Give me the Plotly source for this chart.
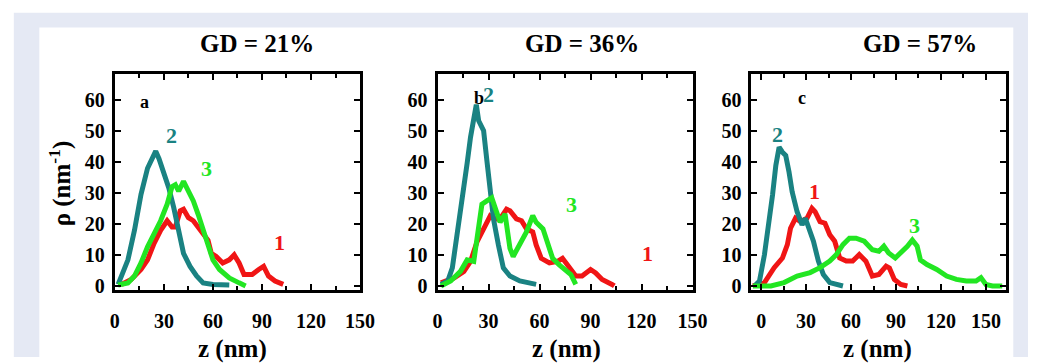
import plotly.graph_objects as go

W, H = 1043, 364

# ---------------- data ----------------
# Panel a : GD = 21%
a1_z = [4, 10, 16, 20, 24, 28, 32, 35, 37, 40, 42, 45, 48, 51, 54, 57, 59, 62, 66, 70, 73, 76, 79, 84, 88, 91, 94, 98, 103]
a1_r = [0.5, 2.1, 5.3, 8.4, 13.7, 17.9, 21, 19, 19, 24.2, 24.7, 22, 21, 19, 16.8, 14.7, 10.5, 9.5, 7.4, 8.4, 10, 7.4, 3.7, 3.7, 5.3, 6.3, 3.2, 1.6, 0.5]
a2_z = [2, 8, 12, 16, 20, 23, 25, 27, 30, 33, 36, 39, 42, 46, 50, 54, 60, 70]
a2_r = [0.5, 8.4, 17.9, 29.5, 37.9, 41, 43.4, 41, 36.8, 31.6, 25.3, 17.9, 10.5, 6.3, 3.2, 1, 0.5, 0.3]
a3_z = [2, 8, 12, 16, 20, 24, 28, 32, 35, 37, 39, 42, 45, 48, 51, 54, 57, 60, 64, 70, 76, 80]
a3_r = [0.3, 1, 3.2, 7.4, 12.6, 16.8, 21, 26.3, 32, 32.6, 30.5, 33.7, 30.5, 27.4, 23, 17.9, 12.6, 8.4, 5.3, 2.6, 1, 0]

# Panel b : GD = 36%
b1_z = [2, 9.7, 15.5, 19.4, 23.2, 27.1, 31, 33.9, 36.8, 40.6, 42.6, 46.4, 49.4, 52.3, 56, 58, 61, 65.8, 70.6, 73.5, 77.4, 81.3, 85, 90, 93, 96.8, 102.6, 104]
b1_r = [1, 2.6, 4.7, 7.9, 14.2, 18.4, 22.6, 21.6, 21.6, 24.7, 24.2, 21.6, 21, 18.4, 17.4, 13.2, 8.9, 7.4, 7.9, 8.9, 6.3, 3.2, 3.2, 5.3, 4.2, 2.1, 0.5, 0]
b2_z = [2, 6, 8.7, 11.6, 13.5, 15.5, 17.4, 19.4, 21.3, 22.8, 24.2, 27.1, 29, 31, 32.9, 35.8, 38.7, 42.6, 48.4, 58]
b2_r = [0.5, 1.6, 5.8, 16.3, 23.7, 30, 39.5, 47.9, 54.2, 58.4, 53.2, 50, 40.5, 30, 21.6, 13.2, 5.8, 3.2, 1.6, 0.5]
b3_z = [2, 7.7, 13.5, 17.4, 21.3, 24.2, 26.1, 29, 31.9, 34.8, 36.8, 39.7, 42.6, 44.5, 48.4, 52.3, 56, 58, 62, 64.8, 67.7, 71.6, 75.5, 78.4, 81.3]
b3_r = [0, 1.6, 4.7, 8.4, 7.9, 19.5, 26.3, 27.4, 28.4, 23.7, 20.5, 23.2, 12.1, 9.5, 13.2, 17.4, 22.6, 20.5, 18.4, 14.2, 8.9, 6.8, 5.3, 3.7, 0.5]

# Panel c : GD = 57%
c1_z = [-5.5, 2.2, 8.7, 14.2, 17.5, 19.6, 22.9, 26.2, 30.6, 33.9, 36, 39.3, 42.6, 45.8, 49.1, 52.4, 56.8, 61.1, 65.5, 69.9, 74.2, 78.6, 83.4, 85.6, 88.9, 93.2, 97.6]
c1_r = [0, 1.1, 5.9, 9, 13.3, 18.6, 21.8, 20.7, 21.8, 25, 23.9, 20.7, 20.2, 16.5, 14.4, 9, 8, 8, 10.1, 8, 3.2, 3.7, 6.4, 5.8, 2.1, 0.5, 0]
c2_z = [-4.4, -1.1, 2.2, 5.4, 7.6, 9.8, 12, 14.2, 16.4, 18.6, 20.7, 24, 27.3, 29.5, 31.6, 34.9, 38.2, 41.5, 45.8, 54.6]
c2_r = [0, 1.6, 10.1, 20.7, 29.3, 38.8, 44.7, 43.1, 42, 36.7, 30.3, 23.9, 19.7, 21.8, 18.6, 14.4, 8, 3.7, 1.1, 0]
c3_z = [-5.5, 6.5, 15.3, 24, 32.7, 39.3, 45.8, 50.2, 54.6, 58.9, 63.3, 68.8, 74.2, 78.6, 81.9, 85.1, 89.5, 93.2, 97.6, 100.9, 104.1, 106.3, 110.7, 117.2, 123.8, 130.3, 136.9, 143.4, 146.7, 150, 154.4, 160.9]
c3_r = [0, 0, 1.1, 3.2, 4.3, 5.9, 8, 10.1, 13.3, 15.4, 15.4, 14.4, 11.7, 11.2, 12.8, 10.6, 9, 10.6, 12.8, 14.8, 12.8, 8.4, 6.9, 5.3, 3.2, 2.1, 1.6, 1.6, 2.7, 0.5, 0, 0]

titles = ["GD = 21%", "GD = 36%", "GD = 57%"]
panel_letters = ["a", "b", "c"]
x_ticks = [0, 30, 60, 90, 120, 150]
y_ticks = [0, 10, 20, 30, 40, 50, 60]

RED, TEAL, GREEN = "#F01515", "#1A8282", "#22E622"

panels = [
    [(a1_z, a1_r, RED), (a2_z, a2_r, TEAL), (a3_z, a3_r, GREEN)],
    [(b1_z, b1_r, RED), (b2_z, b2_r, TEAL), (b3_z, b3_r, GREEN)],
    [(c1_z, c1_r, RED), (c2_z, c2_r, TEAL), (c3_z, c3_r, GREEN)],
]

# ---------------- layout geometry (pixels) ----------------
box_x = [(112, 362), (441, 701), (761, 1021)]
box_y = (75, 296)
x_ranges = [[0, 150], [0, 150], [-6.5, 163.7]]
y_range = [-1.4, 68.4]

def px(x):
    return x / W

def py(y):
    return 1 - y / H

fig = go.Figure()
SERIF = "Liberation Serif"

for i, series in enumerate(panels):
    xa = "x" if i == 0 else f"x{i+1}"
    ya = "y" if i == 0 else f"y{i+1}"
    for z, r, col in series:
        fig.add_trace(go.Scatter(x=z, y=r, mode="lines", xaxis=xa, yaxis=ya,
                                 line=dict(color=col, width=5), showlegend=False,
                                 hoverinfo="skip"))
    axis_common = dict(showline=True, linewidth=3, linecolor="black", mirror="ticks",
                       ticks="inside", tickwidth=2, ticklen=6, tickcolor="black",
                       showgrid=False, zeroline=False,
                       tickfont=dict(family=SERIF, size=20, color="black", weight="bold"))
    xkey = "xaxis" if i == 0 else f"xaxis{i+1}"
    ykey = "yaxis" if i == 0 else f"yaxis{i+1}"
    fig.update_layout({
        xkey: dict(domain=[px(box_x[i][0]), px(box_x[i][1])], range=x_ranges[i],
                   anchor=ya, tickvals=x_ticks, ticklabelstandoff=11,
                   minor=dict(dtick=15, tick0=0, ticks="inside", ticklen=4, tickwidth=2,
                              tickcolor="black"),
                   **axis_common),
        ykey: dict(domain=[py(box_y[1]), py(box_y[0])], range=y_range, anchor=xa,
                   tickvals=y_ticks, ticklabelstandoff=3, **axis_common),
    })

ann = []

def add_text(text, x, y, size, color="black", angle=0):
    ann.append(dict(text=text, x=px(x), y=py(y), xref="paper", yref="paper",
                    showarrow=False, xanchor="center", yanchor="middle", textangle=angle,
                    font=dict(family=SERIF, size=size, color=color, weight="bold")))

title_pos = [(257, 44), (588, 44), (933, 44)]
for t, (x, y) in zip(titles, title_pos):
    add_text(t, x, y, 25)
for x in [232, 572, 890]:
    add_text("z (nm)", x, 356, 25)
add_text("ρ (nm<sup>-1</sup>)", 56, 187, 25, angle=-90)

letter_pos = [(142, 104), (483, 100), (813, 100)]
for t, (x, y) in zip(panel_letters, letter_pos):
    add_text(t, x, y, 18)

num_labels = [
    ("2", 170, 138, TEAL), ("3", 205, 172, GREEN), ("1", 280, 247, RED),
    ("2", 493, 96, TEAL), ("3", 578, 208, GREEN), ("1", 655, 258, RED),
    ("2", 788, 137, TEAL), ("1", 825, 195, RED), ("3", 927, 230, GREEN),
]
for t, x, y, c in num_labels:
    add_text(t, x, y, 22, color=c)

shapes = [
    dict(type="rect", xref="paper", yref="paper", x0=px(9), x1=1, y0=0, y1=py(13),
         fillcolor="#E5E9F4", line=dict(width=0), layer="below"),
    dict(type="rect", xref="paper", yref="paper", x0=px(35), x1=px(1028), y0=0, y1=py(28),
         fillcolor="white", line=dict(width=0), layer="below"),
]

fig.update_layout(width=W, height=H, margin=dict(l=0, r=0, t=0, b=0),
                  paper_bgcolor="white", plot_bgcolor="rgba(0,0,0,0)",
                  font=dict(family=SERIF),
                  annotations=ann, shapes=shapes)

fig.write_html("out.html", config={"displayModeBar": False},
               post_script="document.body.style.margin='0';document.body.style.overflow='hidden';")
